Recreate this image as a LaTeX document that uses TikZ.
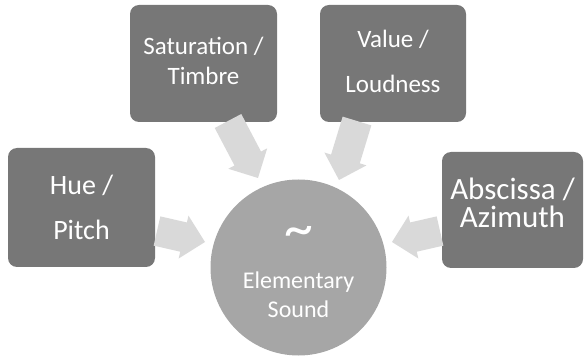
\documentclass[tikz,border=0pt]{standalone}
\usepackage{fontspec}
\setmainfont{Carlito}
\usetikzlibrary{calc}
\definecolor{boxgray}{HTML}{777777}
\definecolor{circgray}{HTML}{A6A6A6}
\definecolor{arrowgray}{HTML}{D9D9D9}
\newcommand\blockarrow[2]{%
  \coordinate (#1h) at ($(#2)!22pt!(#1)$);
  \fill[arrowgray] ($(#1)!15pt!90:(#2)$) -- ($(#1h)!15pt!90:(#2)$) -- ($(#1h)!22pt!90:(#2)$) -- (#2)
    -- ($(#1h)!22pt!-90:(#2)$) -- ($(#1h)!15pt!-90:(#2)$) -- ($(#1)!15pt!-90:(#2)$) -- cycle;}
\begin{document}
\begin{tikzpicture}[x=1pt,y=-1pt,
  box/.style={fill=boxgray, rounded corners=9pt, inner sep=0pt},
  lbl/.style={anchor=base, text=white, inner sep=0pt}]
\path[use as bounding box] (0,0) rectangle (586,363);
% boxes
\node[box, minimum width=147pt, minimum height=119pt] (hue) at (81.5,207.5) {};
\node[box, minimum width=147pt, minimum height=117pt] (sat) at (203.5,63.5) {};
\node[box, minimum width=146pt, minimum height=117pt] (val) at (393,63.5) {};
\node[box, minimum width=141pt, minimum height=116pt] (abs) at (512.5,210) {};
\node[circle, fill=circgray, minimum size=176pt, inner sep=0pt] (snd) at (298.5,267.5) {};
% labels
\node[lbl, font=\fontsize{28}{28}\selectfont] (hue1) at (81.5,195) {Hue /};
\node[lbl, font=\fontsize{28}{28}\selectfont] (hue2) at (81.5,240) {Pitch};
\node[lbl, font=\fontsize{25}{25}\selectfont] (sat1) at (203.5,55) {Saturation /};
\node[lbl, font=\fontsize{25}{25}\selectfont] (sat2) at (203.5,85) {Timbre};
\node[lbl, font=\fontsize{25}{25}\selectfont] (val1) at (393,48) {Value /};
\node[lbl, font=\fontsize{25}{25}\selectfont] (val2) at (393,93) {Loudness};
\node[lbl, font=\fontsize{31}{31}\selectfont] (abs1) at (512.5,200) {Abscissa /};
\node[lbl, font=\fontsize{31}{31}\selectfont] (abs2) at (512.5,228) {Azimuth};
\node[lbl, font=\fontsize{58}{58}\selectfont] (tl) at (298.5,248) {\textasciitilde};
\node[lbl, font=\fontsize{24}{24}\selectfont] (snd1) at (298.5,288) {Elementary};
\node[lbl, font=\fontsize{24}{24}\selectfont] (snd2) at (298.5,317) {Sound};
% arrows
\coordinate (a1) at (157,231); \coordinate (b1) at (205,242);
\coordinate (a2) at (228,121); \coordinate (b2) at (258,178);
\coordinate (a3) at (357,121); \coordinate (b3) at (339,180);
\coordinate (a4) at (440,231); \coordinate (b4) at (392,242);
\blockarrow{a1}{b1}
\blockarrow{a2}{b2}
\blockarrow{a3}{b3}
\blockarrow{a4}{b4}
\end{tikzpicture}
\end{document}
